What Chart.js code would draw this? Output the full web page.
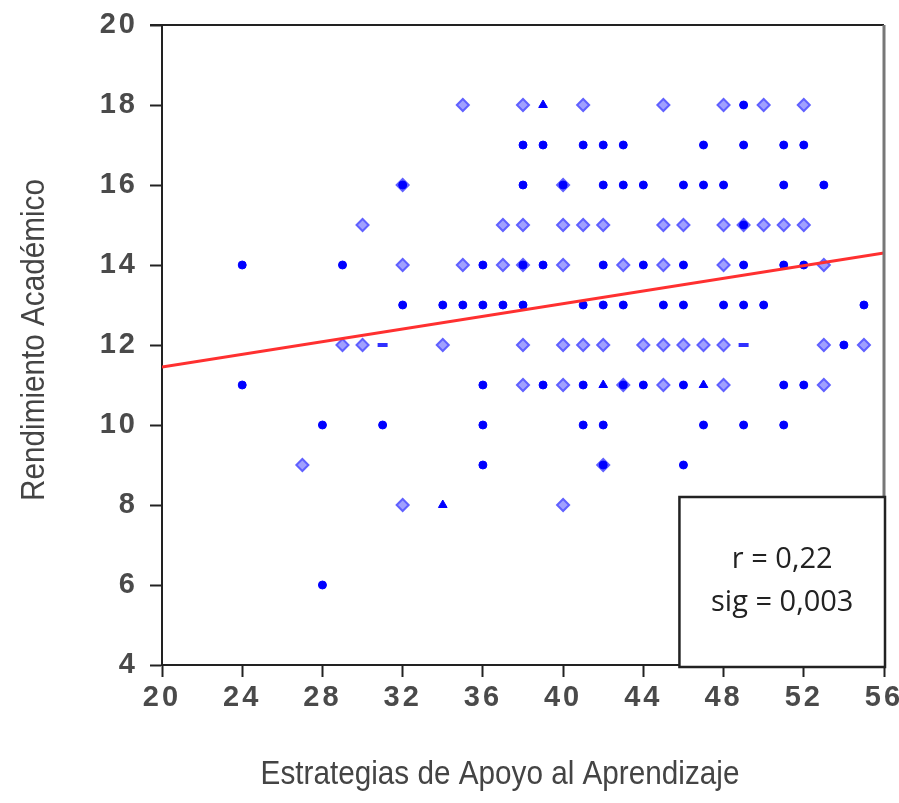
<!DOCTYPE html>
<html>
<head>
<meta charset="utf-8">
<script src="https://cdn.jsdelivr.net/npm/chart.js@4"></script>
<style>
    html, body { margin: 0; padding: 0; background: #fff; }
    #wrap { width: 899px; height: 803px; }
</style>
</head>
<body>
<div id="wrap"><canvas id="chart"></canvas></div>
<script>
// ── Data ──

const xTicks = [20, 24, 28, 32, 36, 40, 44, 48, 52, 56];
const yTicks = [4, 6, 8, 10, 12, 14, 16, 18, 20];

// single (solid) markers
const solidX = [49,
    38, 39, 41, 42, 43, 47, 49, 51, 52,
    32, 38, 40, 42, 43, 44, 46, 47, 48, 51, 53,
    49,
    24, 29, 36, 38, 39, 42, 44, 46, 49, 51, 52,
    32, 34, 35, 36, 37, 38, 41, 42, 43, 45, 46, 48, 49, 50, 55,
    54,
    24, 36, 39, 41, 43, 44, 46, 51, 52,
    28, 31, 36, 41, 42, 47, 49, 51,
    36, 42, 46,
    28];
const solidY = [18,
    17, 17, 17, 17, 17, 17, 17, 17, 17,
    16, 16, 16, 16, 16, 16, 16, 16, 16, 16, 16,
    15,
    14, 14, 14, 14, 14, 14, 14, 14, 14, 14, 14,
    13, 13, 13, 13, 13, 13, 13, 13, 13, 13, 13, 13, 13, 13, 13,
    12,
    11, 11, 11, 11, 11, 11, 11, 11, 11,
    10, 10, 10, 10, 10, 10, 10, 10,
    9, 9, 9,
    6];

// diamond markers
const diamondX = [35, 38, 41, 45, 48, 50, 52,
    32, 40,
    30, 37, 38, 40, 41, 42, 45, 46, 48, 49, 50, 51, 52,
    32, 35, 37, 38, 40, 43, 45, 48, 53,
    29, 30, 34, 38, 40, 41, 42, 44, 45, 46, 47, 48, 53, 55,
    38, 40, 43, 45, 48, 53,
    27, 42,
    32, 40];
const diamondY = [18, 18, 18, 18, 18, 18, 18,
    16, 16,
    15, 15, 15, 15, 15, 15, 15, 15, 15, 15, 15, 15, 15,
    14, 14, 14, 14, 14, 14, 14, 14, 14,
    12, 12, 12, 12, 12, 12, 12, 12, 12, 12, 12, 12, 12, 12,
    11, 11, 11, 11, 11, 11,
    9, 9,
    8, 8];

const triX = [39, 42, 47, 34];
const triY = [18, 11, 11, 8];

const dashX = [31, 49];
const dashY = [12, 12];

// fit line
const fitX = [20, 56];
const fitY = [11.45, 14.3];

const statsLines = ['r = 0,22', 'sig = 0,003'];
const statsCorner = { x: 45.8, y: 8.2 };

const xTitle = 'Estrategias de Apoyo al Aprendizaje';
const yTitle = 'Rendimiento Académico';

function pts(xs, ys) {
    return xs.map((x, i) => ({ x, y: ys[i] }));
}

// ── Frame, titles + stats box ──

const framePlugin = {
    id: 'frame',
    beforeDraw(chart) {
        // spaced-out tick digits like the original
        chart.ctx.letterSpacing = '3px';
    },
    afterDatasetsDraw(chart) {
        const { ctx, chartArea: a, scales } = chart;
        ctx.save();
        ctx.letterSpacing = '0px';
        // top border
        ctx.strokeStyle = '#222';
        ctx.lineWidth = 2;
        ctx.beginPath();
        ctx.moveTo(a.left - 12, a.top);
        ctx.lineTo(a.right, a.top);
        ctx.stroke();
        // right border
        ctx.strokeStyle = '#777';
        ctx.lineWidth = 3;
        ctx.beginPath();
        ctx.moveTo(a.right, a.top);
        ctx.lineTo(a.right, a.bottom);
        ctx.stroke();

        // stats box
        const bx = scales.x.getPixelForValue(statsCorner.x);
        const by = scales.y.getPixelForValue(statsCorner.y);
        const bw = a.right + 1 - bx;
        const bh = a.bottom + 2 - by;
        ctx.fillStyle = '#fff';
        ctx.fillRect(bx, by, bw, bh);
        ctx.strokeStyle = '#222';
        ctx.lineWidth = 2.5;
        ctx.strokeRect(bx, by, bw, bh);
        ctx.fillStyle = '#222';
        ctx.font = "29px 'Open Sans', sans-serif";
        ctx.textAlign = 'center';
        ctx.textBaseline = 'middle';
        const cx = bx + bw / 2;
        ctx.fillText(statsLines[0], cx, by + 63);
        ctx.fillText(statsLines[1], cx, by + 106);

        // axis titles (condensed look)
        ctx.fillStyle = '#444';
        ctx.font = "33px 'Liberation Sans', Arial, sans-serif";
        ctx.save();
        ctx.translate(500, 775);
        ctx.scale(0.9, 1);
        ctx.fillText(xTitle, 0, 0);
        ctx.restore();
        ctx.save();
        ctx.translate(35, 340);
        ctx.rotate(-Math.PI / 2);
        ctx.scale(0.9, 1);
        ctx.fillText(yTitle, 0, 0);
        ctx.restore();
        ctx.restore();
    }
};

const tickFont = { family: "'Liberation Sans', Arial, sans-serif", size: 29, weight: 'bold' };

new Chart(document.getElementById('chart'), {
    type: 'scatter',
    data: {
        datasets: [
            {
                type: 'line',
                data: pts(fitX, fitY),
                borderColor: '#ff3030',
                borderWidth: 3,
                pointRadius: 0,
                fill: false,
                order: 0,
            },
            {
                data: pts(dashX, dashY),
                pointStyle: 'line',
                pointRadius: 5,
                borderColor: '#3030ff',
                borderWidth: 4,
                order: 1,
            },
            {
                data: pts(triX, triY),
                pointStyle: 'triangle',
                pointRadius: 5,
                backgroundColor: '#0000ff',
                borderColor: '#0000ff',
                borderWidth: 1,
                order: 1,
            },
            {
                data: pts(solidX, solidY),
                pointStyle: 'circle',
                pointRadius: 4,
                backgroundColor: '#0000ff',
                borderColor: '#0000ff',
                borderWidth: 1,
                order: 2,
            },
            {
                data: pts(diamondX, diamondY),
                pointStyle: 'rectRot',
                pointRadius: 6,
                backgroundColor: '#a0a0ff',
                borderColor: '#6060ff',
                borderWidth: 2,
                order: 3,
            },
        ]
    },
    options: {
        responsive: true,
        maintainAspectRatio: false,
        animation: false,
        events: [],
        layout: { padding: { top: 25, right: 15, left: 0, bottom: 0 } },
        plugins: {
            legend: { display: false },
            tooltip: { enabled: false },
        },
        scales: {
            x: {
                type: 'linear',
                min: 20,
                max: 56,
                afterBuildTicks: s => { s.ticks = xTicks.map(v => ({ value: v })); },
                afterFit: s => { s.height = 138; s.paddingLeft = 0; s.paddingRight = 0; },
                grid: { drawOnChartArea: false, tickLength: 12, tickColor: '#222', tickWidth: 2 },
                border: { color: '#222', width: 2 },
                ticks: { color: '#4a4a4a', font: tickFont, padding: 4, maxRotation: 0 },
            },
            y: {
                type: 'linear',
                min: 4,
                max: 20,
                afterBuildTicks: s => { s.ticks = yTicks.map(v => ({ value: v })); },
                afterFit: s => { s.width = 162; s.paddingTop = 0; s.paddingBottom = 0; },
                grid: { drawOnChartArea: false, tickLength: 12, tickColor: '#222', tickWidth: 2 },
                border: { color: '#222', width: 2 },
                ticks: { color: '#4a4a4a', font: tickFont, padding: 12 },
            }
        }
    },
    plugins: [framePlugin]
});
</script>
</body>
</html>
